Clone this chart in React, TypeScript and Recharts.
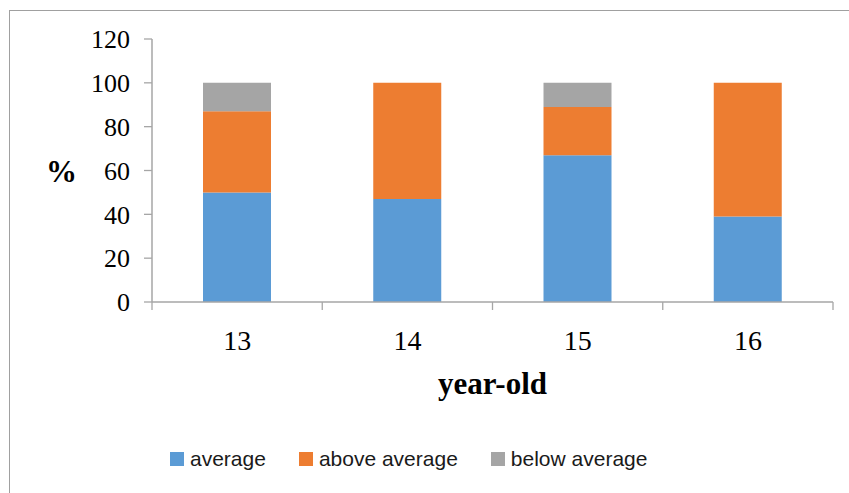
import React from 'react';
import { BarChart, Bar, XAxis, YAxis, Legend, Label } from 'recharts';

const ages = ['13', '14', '15', '16'];
const average = [50, 47, 67, 39];
const aboveAverage = [37, 53, 22, 61];
const belowAverage = [13, 0, 11, 0];
const yTicks = [0, 20, 40, 60, 80, 100, 120];

const series = [
  { key: 'average', name: 'average', color: '#5B9BD5' },
  { key: 'above', name: 'above average', color: '#ED7D31' },
  { key: 'below', name: 'below average', color: '#A5A5A5' },
];

const data = ages.map((age, i) => ({
  age,
  average: average[i],
  above: aboveAverage[i],
  below: belowAverage[i],
}));

const AXIS = '#a6a6a6';
const SERIF = '"Liberation Serif", "Times New Roman", serif';

const XTick = (props: any) => {
  const { x, y, payload, index } = props;
  const half = payload && payload.offset ? payload.offset : 85;
  const top = y - 8;
  return (
    <g>
      <line x1={x - half} x2={x - half} y1={top} y2={top + 8} stroke={AXIS} strokeWidth={1.3} />
      {index === ages.length - 1 && (
        <line x1={x + half} x2={x + half} y1={top} y2={top + 8} stroke={AXIS} strokeWidth={1.3} />
      )}
      <text x={x} y={top + 48} textAnchor="middle" fontFamily={SERIF} fontSize={28} fill="#000">
        {payload.value}
      </text>
    </g>
  );
};

const LegendContent = () => (
  <div style={{ display: 'flex', alignItems: 'center', fontFamily: '"Liberation Sans", Arial, sans-serif', fontSize: 21, color: '#1a1a1a', whiteSpace: 'nowrap' }}>
    {series.map((s) => (
      <div key={s.key} style={{ display: 'flex', alignItems: 'center', marginRight: 33 }}>
        <span style={{ width: 14, height: 14, background: s.color, display: 'inline-block', marginRight: 6 }} />
        <span>{s.name}</span>
      </div>
    ))}
  </div>
);

export default function App() {
  return (
    <div style={{ position: 'absolute', left: 0, top: 0, width: 849, height: 493, overflow: 'hidden', background: '#fff' }}>
      <div style={{ position: 'absolute', left: 9, top: 10, width: 900, height: 600, border: '1.5px solid #a0a0a0' }} />
      <BarChart
        width={849}
        height={493}
        data={data}
        margin={{ top: 39, right: 16, bottom: 91, left: 0 }}
        barCategoryGap={0}
        style={{ position: 'absolute', left: 0, top: 0 }}
      >
        <XAxis
          dataKey="age"
          height={100}
          tickSize={8}
          tickMargin={0}
          tickLine={false}
          axisLine={{ stroke: AXIS, strokeWidth: 1.5 }}
          tick={<XTick />}
          interval={0}
        >
          <Label
            value="year-old"
            position="insideTop"
            offset={70}
            style={{ fontFamily: SERIF, fontSize: 31, fontWeight: 700, fill: '#000' }}
          />
        </XAxis>
        <YAxis
          width={152}
          domain={[0, 120]}
          ticks={yTicks}
          interval={0}
          tickSize={8}
          tickMargin={14}
          tickLine={{ stroke: AXIS, strokeWidth: 1.3 }}
          axisLine={{ stroke: AXIS, strokeWidth: 1.5 }}
          tick={{ fontFamily: SERIF, fontSize: 26, fill: '#000' }}
        >
          <Label
            value="%"
            position="insideLeft"
            offset={46}
            style={{ fontFamily: SERIF, fontSize: 31, fontWeight: 700, fill: '#000', textAnchor: 'start' }}
          />
        </YAxis>
        <Legend
          layout="horizontal"
          verticalAlign="middle"
          align="center"
          content={<LegendContent />}
          wrapperStyle={{ top: 447, left: 170, width: 'auto' }}
        />
        {series.map((s) => (
          <Bar
            key={s.key}
            dataKey={s.key}
            name={s.name}
            stackId="a"
            fill={s.color}
            barSize={68}
            isAnimationActive={false}
          />
        ))}
      </BarChart>
    </div>
  );
}
